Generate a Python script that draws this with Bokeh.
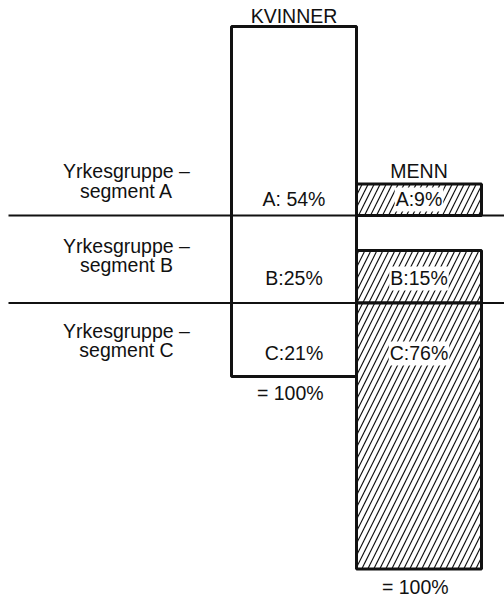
from bokeh.plotting import figure
from bokeh.models import Range1d, ColumnDataSource
from bokeh.core.properties import value
from bokeh.embed import file_html
from bokeh.resources import INLINE

# ---- data ----
segments = ["A", "B", "C"]
kvinner = [54, 25, 21]
menn = [9, 15, 76]
kvinner_labels = ["A: 54%", "B:25%", "C:21%"]
menn_labels = ["A:9%", "B:15%", "C:76%"]
group_line1 = ["Yrkesgruppe –", "Yrkesgruppe –", "Yrkesgruppe –"]
group_line2 = ["segment A", "segment B", "segment C"]
col_titles = ["KVINNER", "MENN"]
total_label = "= 100%"

# ---- derived geometry (from the data) ----
k_top, k_bot = [], []
acc = 0
for v in kvinner:
    k_top.append(acc)
    acc += v
    k_bot.append(acc)
m_top, m_bot = [], []
for i, v in enumerate(menn):
    if i < len(menn) - 1:
        m_bot.append(k_bot[i])
        m_top.append(k_bot[i] - v)
    else:
        m_top.append(k_top[i])
        m_bot.append(k_top[i] + v)

FONT = value("Liberation Sans")
FS = "19.5px"
INK = "#111111"
ADJ = -7  # baseline correction (px)

def offs(lst):
    return [o + ADJ for o in lst]

p = figure(width=504, height=597,
           x_range=Range1d(-1.848, 2.184),
           y_range=Range1d(163.143, -7.4286),
           x_axis_type=None, y_axis_type=None,
           toolbar_location=None, output_backend="svg",
           min_border=0)
p.grid.visible = False
p.outline_line_color = None
p.background_fill_color = "white"
p.border_fill_color = "white"

# Kvinner bar (one outlined box of 100%)
p.quad(left=[0], right=[1], top=[k_top[0]], bottom=[k_bot[-1]],
       fill_color="white", line_color=INK, line_width=3)

# Menn bars (hatched)
msrc = ColumnDataSource(dict(left=[1] * 3, right=[2] * 3, top=m_top, bottom=m_bot))
p.quad(left="left", right="right", top="top", bottom="bottom", source=msrc,
       fill_color="white", hatch_pattern="/", hatch_color=INK,
       hatch_scale=12, hatch_weight=1.2, line_color=INK, line_width=3)

# Segment divider lines across the chart
divs = k_bot[:-1]
p.segment(x0=[-1.784] * len(divs), x1=[2.2] * len(divs), y0=divs, y1=divs,
          line_color=INK, line_width=2)

# Value labels
val_off = offs([-9, -17.5, -16])
ksrc = ColumnDataSource(dict(x=[0.5] * 3, y=k_bot, t=kvinner_labels, yo=val_off))
p.text(x="x", y="y", text="t", y_offset="yo", source=ksrc,
       text_align="center", text_baseline="alphabetic",
       text_font=FONT, text_font_size=FS, text_color=INK)
mlsrc = ColumnDataSource(dict(x=[1.5] * 3, y=k_bot, t=menn_labels, yo=val_off))
p.text(x="x", y="y", text="t", y_offset="yo", source=mlsrc,
       text_align="center", text_baseline="alphabetic",
       text_font=FONT, text_font_size=FS, text_color=INK,
       background_fill_color="white", padding=1)

# Row labels on the left
LX = -0.84
l1 = ColumnDataSource(dict(x=[LX] * 3, y=k_bot, t=group_line1, yo=offs([-37, -49.5, -38])))
l2 = ColumnDataSource(dict(x=[LX] * 3, y=k_bot, t=group_line2, yo=offs([-17, -30.5, -19])))
for src in (l1, l2):
    p.text(x="x", y="y", text="t", y_offset="yo", source=src,
           text_align="center", text_baseline="alphabetic",
           text_font=FONT, text_font_size=FS, text_color=INK)

# Column titles
tsrc = ColumnDataSource(dict(x=[0.5, 1.5], y=[k_top[0], m_top[0]], t=col_titles,
                             yo=offs([-4, -6])))
p.text(x="x", y="y", text="t", y_offset="yo", source=tsrc,
       text_align="center", text_baseline="alphabetic",
       text_font=FONT, text_font_size=FS, text_color=INK)

# Totals
tot = ColumnDataSource(dict(x=[0.47, 1.47], y=[k_bot[-1], m_bot[-1]],
                            t=[total_label, total_label], yo=offs([24, 25])))
p.text(x="x", y="y", text="t", y_offset="yo", source=tot,
       text_align="center", text_baseline="alphabetic",
       text_font=FONT, text_font_size=FS, text_color=INK)

open("out.html", "w").write(file_html(p, INLINE))
